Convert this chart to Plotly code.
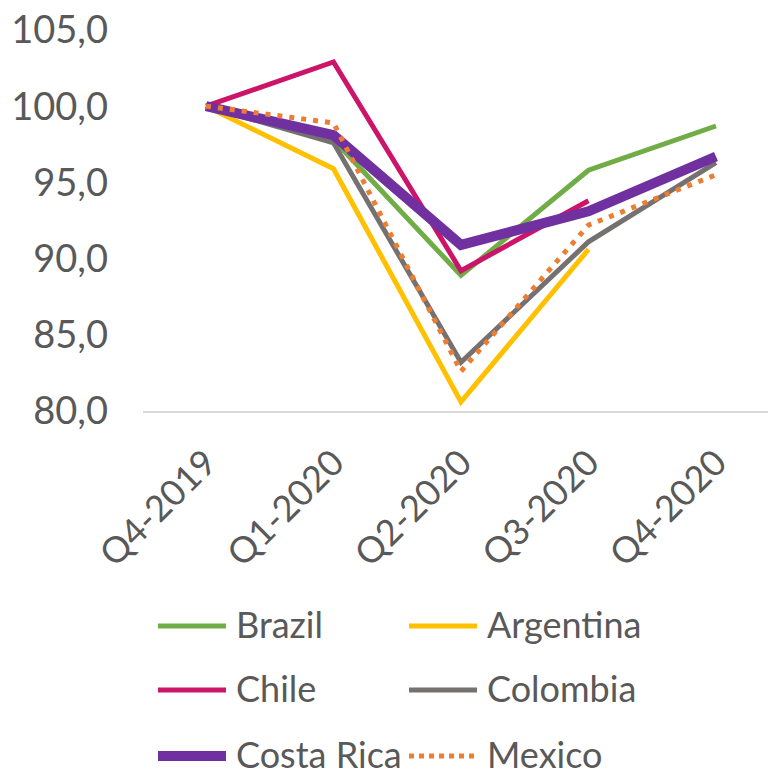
import plotly.graph_objects as go

# Quarterly index (Q4-2019 = 100)
quarters = ["Q4-2019", "Q1-2020", "Q2-2020", "Q3-2020", "Q4-2020"]
brazil = [100.0, 97.8, 88.9, 95.8, 98.7]
argentina = [100.0, 95.9, 80.6, 90.6, None]
chile = [100.0, 102.9, 89.2, 93.8, None]
colombia = [100.0, 97.6, 83.2, 91.1, 96.3]
costa_rica = [100.0, 98.1, 90.9, 93.1, 96.7]
mexico = [100.0, 98.9, 82.6, 92.2, 95.5]

y_ticks = [80, 85, 90, 95, 100, 105]

series = [
    ("Brazil", brazil, "#70AD47", 5, "solid"),
    ("Argentina", argentina, "#FFC000", 5, "solid"),
    ("Chile", chile, "#CC1468", 5, "solid"),
    ("Colombia", colombia, "#767171", 5, "solid"),
    ("Costa Rica", costa_rica, "#7030A0", 10, "solid"),
    ("Mexico", mexico, "#ED7D31", 5, "5px,7px"),
]

TEXT = "#595959"
FONT = "Lato"

W, H = 768, 772
L, R, T, B = 143, 0, 30, 361
PW, PH = W - L - R, H - T - B


def px_x(x):
    return (x - L) / PW


def px_y(y):
    return (H - B - y) / PH


fig = go.Figure()
for name, vals, color, width, dash in series:
    fig.add_trace(go.Scatter(
        x=quarters, y=vals, mode="lines", name=name,
        line=dict(color=color, width=width, dash=dash),
        connectgaps=False, showlegend=False,
    ))

# Two-column legend below the plot
legend_cols = [158, 409]
legend_text_x = [234, 485]
legend_rows = [626, 690, 756]
shapes = []
annotations = []
for i, (name, vals, color, width, dash) in enumerate(series):
    col, row = i % 2, i // 2
    x0 = legend_cols[col]
    y0 = legend_rows[row]
    shapes.append(dict(
        type="line", xref="paper", yref="paper",
        x0=px_x(x0), x1=px_x(x0 + 68), y0=px_y(y0), y1=px_y(y0),
        line=dict(color=color, width=width,
                  dash="dot" if dash != "solid" else "solid"),
    ))
    annotations.append(dict(
        xref="paper", yref="paper", x=px_x(legend_text_x[col]), y=px_y(y0 - 2),
        xanchor="left", yanchor="middle", showarrow=False,
        text=name, font=dict(family=FONT, size=36, color=TEXT),
    ))

fig.update_layout(
    width=W, height=H,
    margin=dict(l=L, r=R, t=T, b=B),
    paper_bgcolor="white", plot_bgcolor="white",
    separators=",.",
    shapes=shapes, annotations=annotations,
    font=dict(family=FONT, color=TEXT),
)
fig.update_xaxes(
    type="category", range=[-0.494, 4.408],
    tickangle=-45, tickfont=dict(family=FONT, size=36, color=TEXT),
    showgrid=False, zeroline=False,
    showline=True, linecolor="#D9D9D9", linewidth=2,
    ticks="", ticklabelstandoff=14,
)
fig.update_yaxes(
    range=[80, 105], tickvals=y_ticks, tickformat=".1f",
    tickfont=dict(family=FONT, size=38, color=TEXT),
    showgrid=False, zeroline=False, showline=False,
    ticks="", ticklabelstandoff=34,
)

fig.write_html("out.html")
